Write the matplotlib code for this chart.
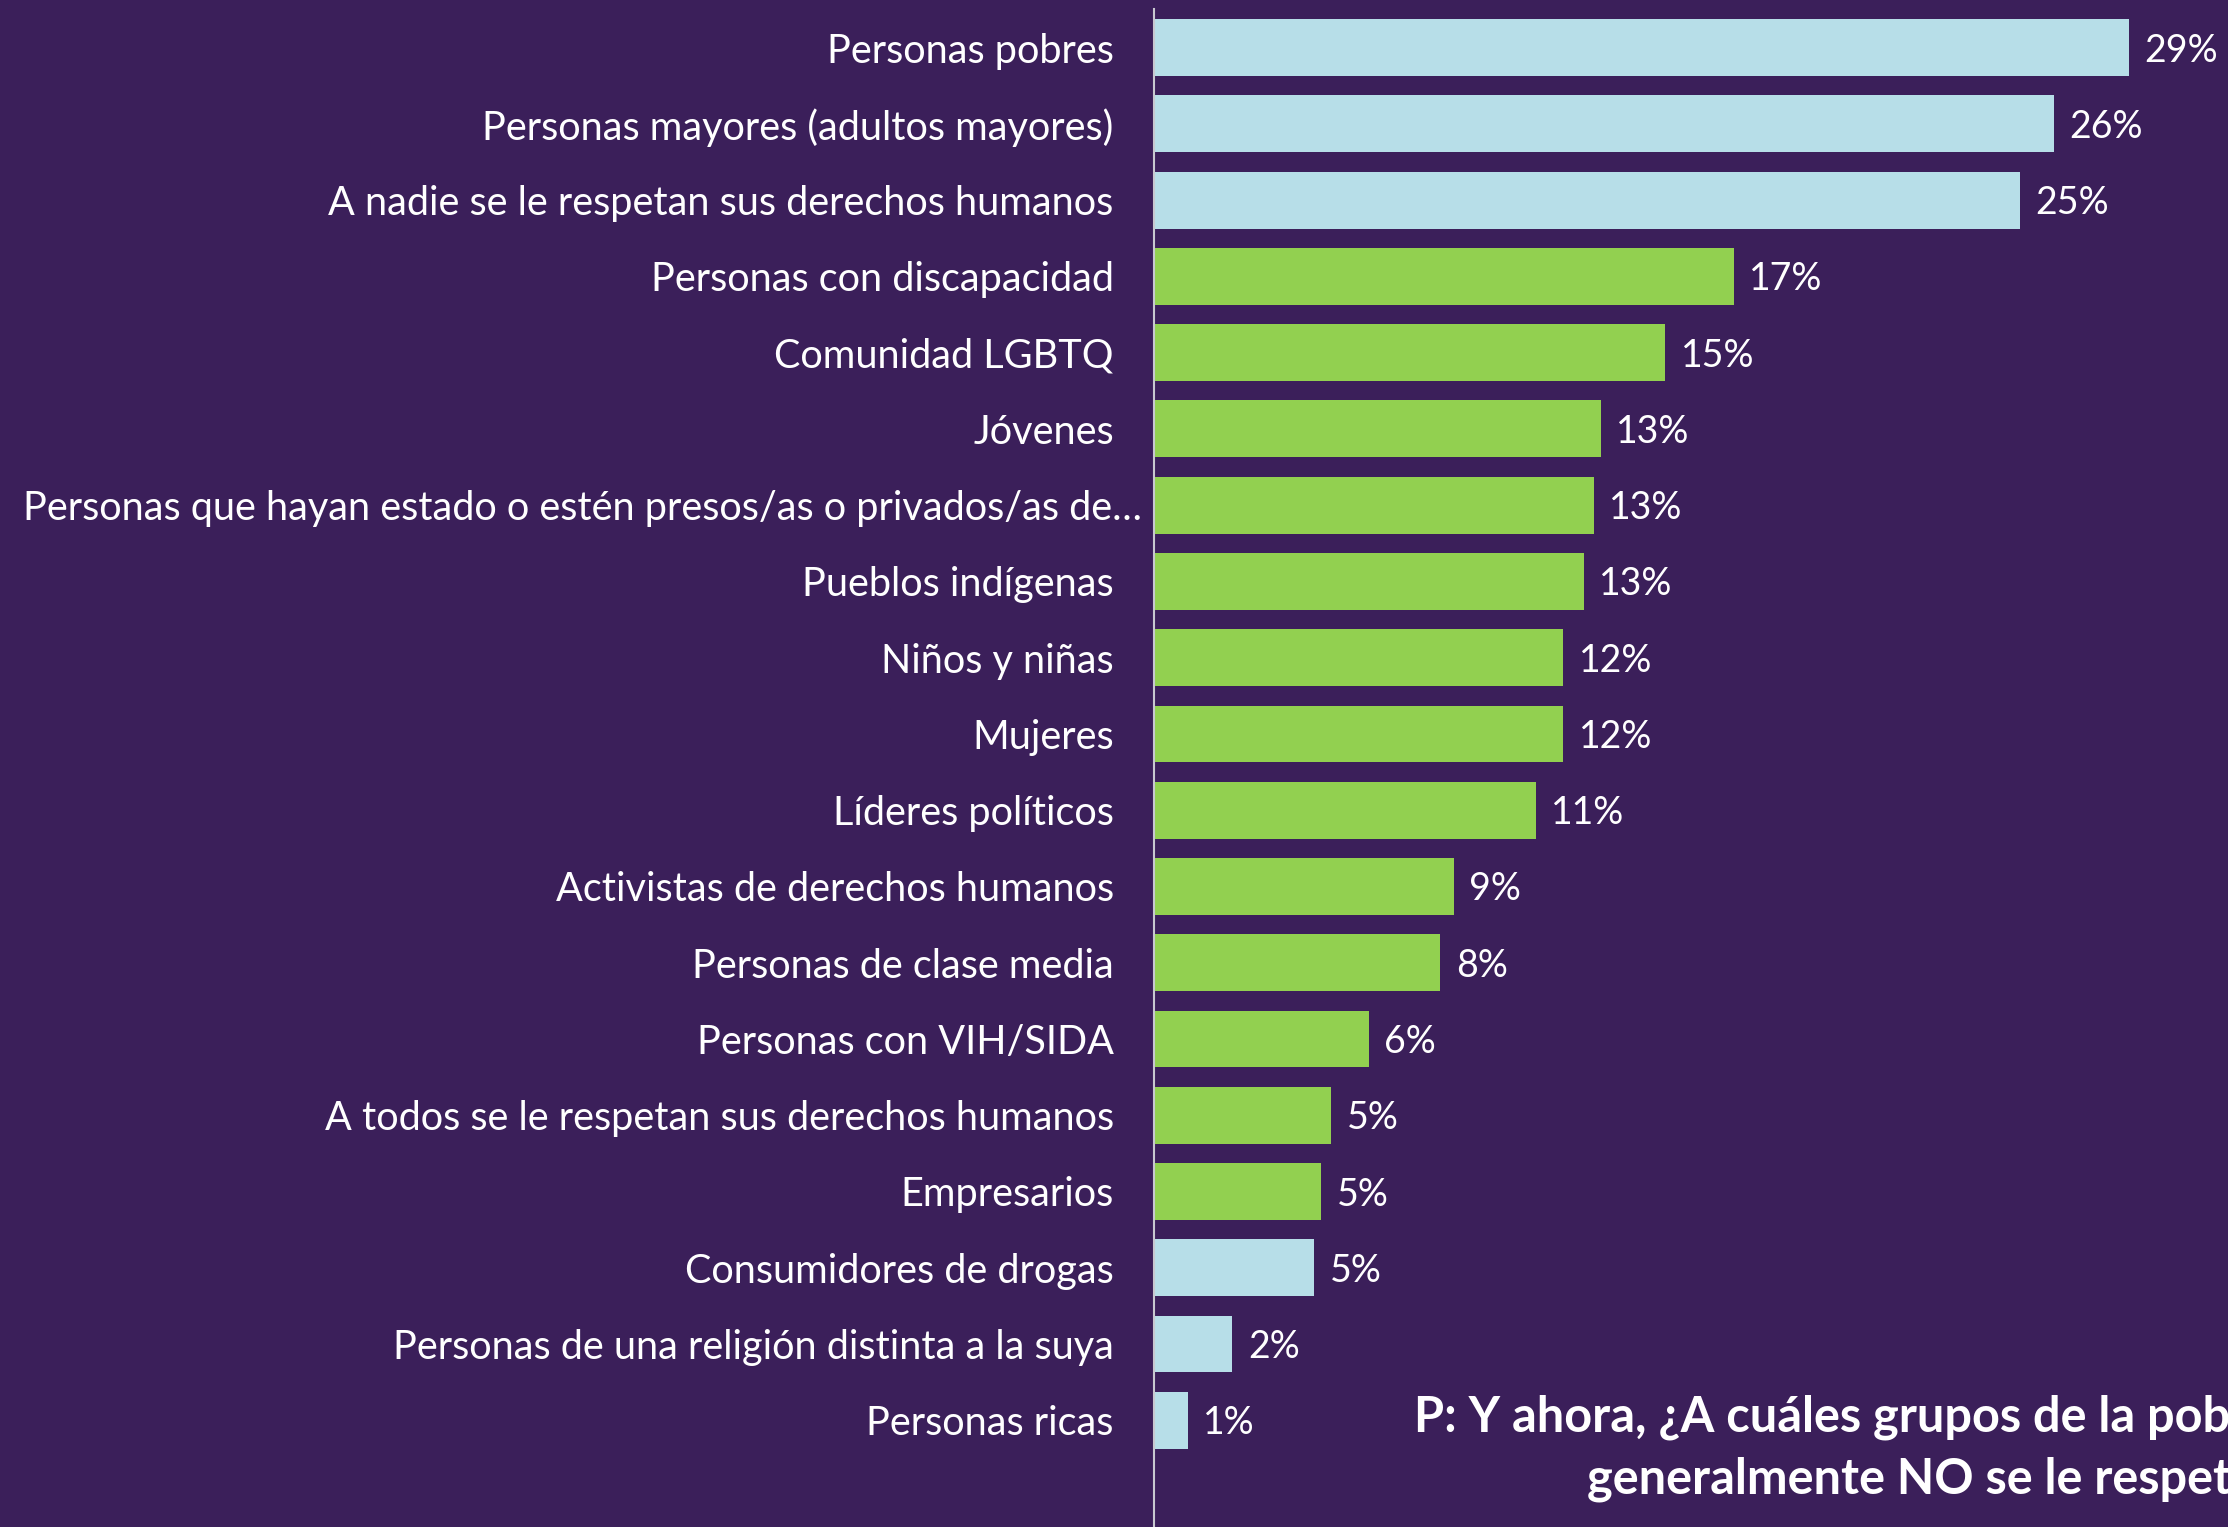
import numpy as np
import matplotlib
matplotlib.use("Agg")
import matplotlib.pyplot as plt
import matplotlib.transforms as mtransforms

# Categories top -> bottom, with values
categories = [
    "Personas pobres",
    "Personas mayores (adultos mayores)",
    "A nadie se le respetan sus derechos humanos",
    "Personas con discapacidad",
    "Comunidad LGBTQ",
    "Jóvenes",
    "Personas que hayan estado o estén presos/as o privados/as de…",
    "Pueblos indígenas",
    "Niños y niñas",
    "Mujeres",
    "Líderes políticos",
    "Activistas de derechos humanos",
    "Personas de clase media",
    "Personas con VIH/SIDA",
    "A todos se le respetan sus derechos humanos",
    "Empresarios",
    "Consumidores de drogas",
    "Personas de una religión distinta a la suya",
    "Personas ricas",
]
values = [28.6, 26.4, 25.4, 17.0, 15.0, 13.1, 12.9, 12.6, 12.0, 12.0, 11.2,
          8.8, 8.4, 6.3, 5.2, 4.9, 4.7, 2.3, 1.0]
value_labels = ["29%", "26%", "25%", "17%", "15%", "13%", "13%", "13%", "12%",
                "12%", "11%", "9%", "8%", "6%", "5%", "5%", "5%", "2%", "1%"]
highlight = [True, True, True] + [False] * 13 + [True, True, True]

question = ["P: Y ahora, ¿A cuáles grupos de la población cree usted que",
            "generalmente NO se le respetan sus derechos humanos?"]

bg = "#3B1F5A"
blue = "#B7DEE8"
green = "#92D050"
font = "Lato"

fig = plt.figure(figsize=(22.28, 15.27), dpi=100, facecolor=bg)
ax = fig.add_axes([1154 / 2228, 0, 1 - 1154 / 2228, 1 - 9 / 1527])
ax.set_facecolor(bg)

y = np.arange(len(categories))
colors = [blue if h else green for h in highlight]
ax.barh(y, values, height=0.745, color=colors)

ax.set_xlim(0, 31.5)
ax.set_ylim(19.4, -0.506)

for i, (v, lab) in enumerate(zip(values, value_labels)):
    ax.text(v + 0.45, i + 0.04, lab, va="center", ha="left", color="white",
            fontsize=27, family=font)

ax.set_yticks(y)
ax.set_yticklabels(categories, fontsize=28.5, color="white", family=font)
ax.tick_params(axis="y", length=0, pad=29)
ax.set_xticks([])
for s in ["top", "right", "bottom"]:
    ax.spines[s].set_visible(False)
ax.spines["left"].set_color("#C8C8D0")
ax.spines["left"].set_linewidth(1.5)

# the long truncated label pokes out a bit to the right in the original
long_lab = ax.get_yticklabels()[6]
long_lab.set_transform(long_lab.get_transform() +
                       mtransforms.ScaledTranslation(0.28, 0, fig.dpi_scale_trans))

# question text runs off the right edge, as in the original slide
fig.text(1414 / 2228, 1 - 1417 / 1527, question[0], ha="left", va="center",
         color="white", fontsize=35, fontweight="bold", family=font)
fig.text(1587 / 2228, 1 - 1479 / 1527, question[1], ha="left", va="center",
         color="white", fontsize=35, fontweight="bold", family=font)

fig.savefig("out.png", dpi=100, facecolor=bg)
